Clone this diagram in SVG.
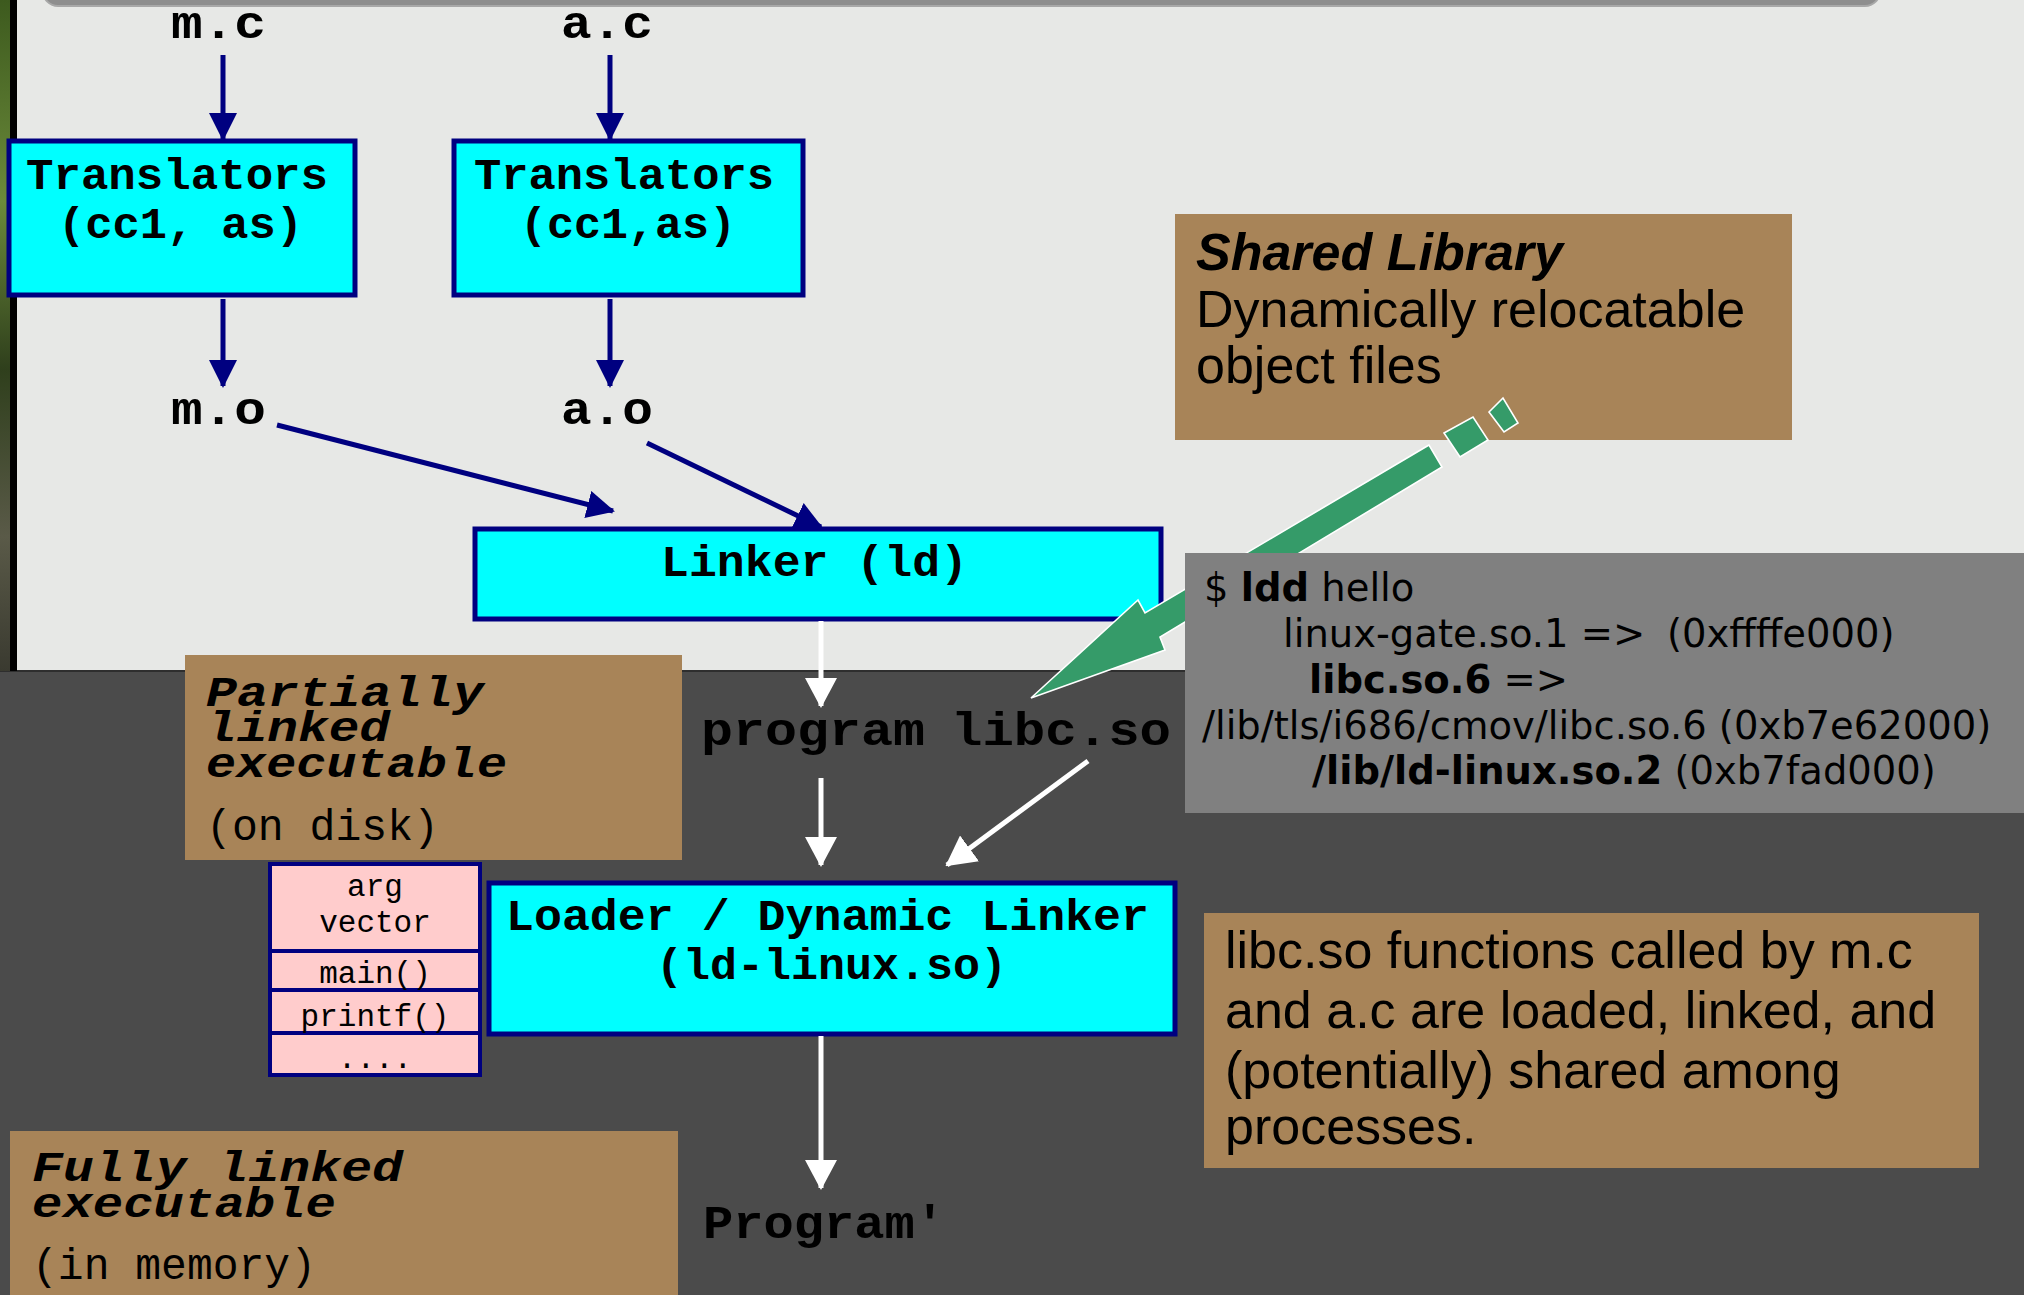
<svg xmlns="http://www.w3.org/2000/svg" width="2024" height="1295" viewBox="0 0 2024 1295">
<defs>
<linearGradient id="foliage" x1="0" y1="0" x2="0" y2="1">
<stop offset="0" stop-color="#3d5a1e"/>
<stop offset="0.3" stop-color="#6b8a3a"/>
<stop offset="0.55" stop-color="#2f3f1c"/>
<stop offset="0.8" stop-color="#5a5a48"/>
<stop offset="1" stop-color="#3a3a30"/>
</linearGradient>
<marker id="navyHead" markerUnits="userSpaceOnUse" markerWidth="28" markerHeight="28" refX="26" refY="14" orient="auto" viewBox="0 0 28 28">
<path d="M0,0 L28,14 L0,28 z" fill="#000080"/>
</marker>
<marker id="whiteHead" markerUnits="userSpaceOnUse" markerWidth="30" markerHeight="32" refX="28" refY="16" orient="auto" viewBox="0 0 30 32">
<path d="M0,0 L30,16 L0,32 z" fill="#ffffff"/>
</marker>
</defs>
<style>
.box{fill:#00ffff;stroke:#000080;stroke-width:5}
.tan{fill:#a88458}
.pink{fill:#ffcccc;stroke:#000080;stroke-width:4}
.mono{font-family:"Liberation Mono","DejaVu Sans Mono",monospace;font-weight:bold;fill:#000}
.lbl{font-size:46px}
.tr{font-size:44px}
.ital{font-family:"Liberation Mono","DejaVu Sans Mono",monospace;font-weight:bold;font-style:italic;font-size:42px;fill:#000}
.reg{font-family:"Liberation Mono","DejaVu Sans Mono",monospace;font-weight:normal;font-size:44px;fill:#000}
.stk{font-family:"Liberation Mono","DejaVu Sans Mono",monospace;font-size:31px;fill:#000;text-anchor:middle}
.sans{font-family:"Liberation Sans",Arial,sans-serif;font-size:52px;fill:#000}
.ldd{font-family:"DejaVu Sans",Verdana,sans-serif;font-size:38.5px;fill:#000}
.navy{stroke:#000080;stroke-width:5;fill:none;marker-end:url(#navyHead)}
.white{stroke:#ffffff;stroke-width:5;fill:none;marker-end:url(#whiteHead)}
.green{fill:#359b69;stroke:#ffffff;stroke-width:1.6}
</style>

<!-- background -->
<rect x="0" y="0" width="2024" height="671" fill="#e7e8e6"/>
<rect x="0" y="671" width="2024" height="624" fill="#4b4b4b"/>
<line x1="0" y1="671" x2="2024" y2="671" stroke="#2e2e2e" stroke-width="2"/>
<rect x="0" y="0" width="10" height="671" fill="url(#foliage)"/>
<rect x="10" y="0" width="7" height="671" fill="#000"/>
<rect x="43" y="-40" width="1837" height="46" rx="15" ry="15" fill="#8e8e8e" stroke="#a8a8a8" stroke-width="2"/>

<!-- nodes -->
<g id="mc"><text class="mono lbl" x="171" y="38" textLength="95" lengthAdjust="spacingAndGlyphs">m.c</text></g>
<g id="ac"><text class="mono lbl" x="561" y="38" textLength="92" lengthAdjust="spacingAndGlyphs">a.c</text></g>

<g id="translators1">
<rect class="box" x="9" y="141" width="346" height="154"/>
<text class="mono tr" x="26" y="189" textLength="302" lengthAdjust="spacingAndGlyphs">Translators</text>
<text class="mono tr" x="58" y="238" textLength="245" lengthAdjust="spacingAndGlyphs">(cc1, as)</text>
</g>
<g id="translators2">
<rect class="box" x="454" y="141" width="349" height="154"/>
<text class="mono tr" x="474" y="189" textLength="300" lengthAdjust="spacingAndGlyphs">Translators</text>
<text class="mono tr" x="520" y="238" textLength="216" lengthAdjust="spacingAndGlyphs">(cc1,as)</text>
</g>

<g id="mo"><text class="mono lbl" x="171" y="424" textLength="95" lengthAdjust="spacingAndGlyphs">m.o</text></g>
<g id="ao"><text class="mono lbl" x="561" y="424" textLength="92" lengthAdjust="spacingAndGlyphs">a.o</text></g>

<g id="linker">
<rect class="box" x="475" y="529" width="686" height="90"/>
<text class="mono tr" x="661" y="576" textLength="307" lengthAdjust="spacingAndGlyphs">Linker (ld)</text>
</g>

<g id="sharedlib">
<rect class="tan" x="1175" y="214" width="617" height="226"/>
<text class="sans" x="1196" y="270" font-weight="bold" font-style="italic">Shared Library</text>
<text class="sans" x="1196" y="327">Dynamically relocatable</text>
<text class="sans" x="1196" y="383">object files</text>
</g>

<g id="partial">
<rect class="tan" x="185" y="655" width="497" height="205"/>
<text class="ital" x="206" y="706" textLength="278" lengthAdjust="spacingAndGlyphs">Partially</text>
<text class="ital" x="206" y="741" textLength="184" lengthAdjust="spacingAndGlyphs">linked</text>
<text class="ital" x="206" y="777" textLength="301" lengthAdjust="spacingAndGlyphs">executable</text>
<text class="reg" x="206" y="840" textLength="233" lengthAdjust="spacingAndGlyphs">(on disk)</text>
</g>

<g id="program"><text class="mono lbl" x="701" y="745" textLength="224" lengthAdjust="spacingAndGlyphs">program</text></g>
<g id="libcso"><text class="mono lbl" x="951" y="745" textLength="220" lengthAdjust="spacingAndGlyphs">libc.so</text></g>

<g id="stack">
<rect class="pink" x="270" y="864" width="210" height="87"/>
<rect class="pink" x="270" y="951" width="210" height="39"/>
<rect class="pink" x="270" y="990" width="210" height="43"/>
<rect class="pink" x="270" y="1033" width="210" height="42"/>
<text class="stk" x="375" y="896">arg</text>
<text class="stk" x="375" y="932">vector</text>
<text class="stk" x="375" y="983">main()</text>
<text class="stk" x="375" y="1026">printf()</text>
<text class="stk" x="375" y="1068">....</text>
</g>

<g id="loader">
<rect class="box" x="489" y="883" width="686" height="151"/>
<text class="mono tr" x="506" y="930" textLength="643" lengthAdjust="spacingAndGlyphs">Loader / Dynamic Linker</text>
<text class="mono tr" x="656" y="979" textLength="351" lengthAdjust="spacingAndGlyphs">(ld-linux.so)</text>
</g>

<g id="libcnote">
<rect class="tan" x="1204" y="913" width="775" height="255"/>
<text class="sans" x="1225" y="968">libc.so functions called by m.c</text>
<text class="sans" x="1225" y="1028">and a.c are loaded, linked, and</text>
<text class="sans" x="1225" y="1088">(potentially) shared among</text>
<text class="sans" x="1225" y="1144">processes.</text>
</g>

<g id="full">
<rect class="tan" x="10" y="1131" width="668" height="170"/>
<text class="ital" x="32" y="1181" textLength="371" lengthAdjust="spacingAndGlyphs">Fully linked</text>
<text class="ital" x="32" y="1217" textLength="304" lengthAdjust="spacingAndGlyphs">executable</text>
<text class="reg" x="32" y="1279" textLength="284" lengthAdjust="spacingAndGlyphs">(in memory)</text>
</g>

<g id="programPrime"><text class="mono lbl" x="703" y="1238" textLength="242" lengthAdjust="spacingAndGlyphs">Program'</text></g>

<!-- connectors -->
<g id="connectors">
<line class="navy" x1="223" y1="55" x2="223" y2="139"/>
<line class="navy" x1="610" y1="55" x2="610" y2="139"/>
<line class="navy" x1="223" y1="299" x2="223" y2="386"/>
<line class="navy" x1="610" y1="299" x2="610" y2="386"/>
<line class="navy" x1="277" y1="425" x2="613" y2="511"/>
<line class="navy" x1="647" y1="443" x2="821" y2="527"/>
<line class="white" x1="821" y1="621" x2="821" y2="706"/>
<line class="white" x1="821" y1="778" x2="821" y2="865"/>
<line class="white" x1="1088" y1="761" x2="947" y2="865"/>
<line class="white" x1="821" y1="1036" x2="821" y2="1188"/>
<g id="greenArrow">
<polygon class="green" points="1489,412 1503,398 1518,423 1504,432"/>
<polygon class="green" points="1444,433 1473,417 1488,440 1460,457"/>
<polygon class="green" points="1429,445 1145,613 1138,600 1031,698 1165,650 1160,637 1442,467"/>
</g>
</g>

<g id="ldd">
<rect x="1185" y="553" width="839" height="260" fill="#808080"/>
<text class="ldd" x="1204" y="601">$ <tspan font-weight="bold">ldd</tspan> hello</text>
<text class="ldd" x="1283" y="647">linux-gate.so.1 =&gt;</text>
<text class="ldd" x="1667" y="647">(0xffffe000)</text>
<text class="ldd" x="1309" y="693"><tspan font-weight="bold">libc.so.6</tspan> =&gt;</text>
<text class="ldd" x="1202" y="739">/lib/tls/i686/cmov/libc.so.6 (0xb7e62000)</text>
<text class="ldd" x="1312" y="784"><tspan font-weight="bold">/lib/ld-linux.so.2</tspan> (0xb7fad000)</text>
</g>
</svg>
